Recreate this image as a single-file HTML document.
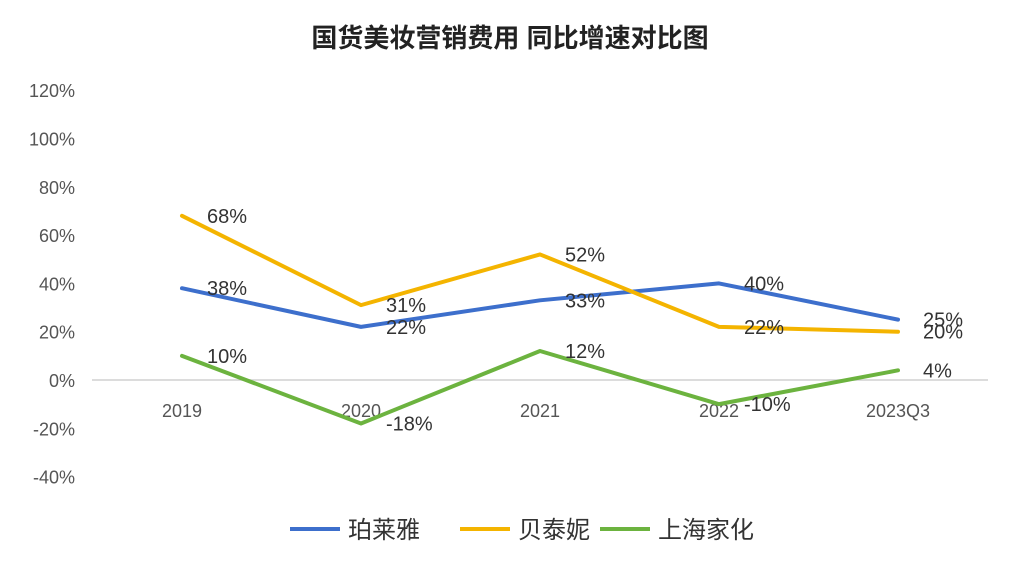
<!DOCTYPE html>
<html><head><meta charset="utf-8"><style>
body{margin:0;background:#fff}
svg text{font-family:"Liberation Sans","Noto Sans CJK SC",sans-serif}
</style></head><body>
<svg width="1020" height="570" viewBox="0 0 1020 570" xmlns="http://www.w3.org/2000/svg">
<rect width="1020" height="570" fill="#fff"/>
<text x="510" y="47" text-anchor="middle" font-size="26" font-weight="bold" fill="#222">国货美妆营销费用 同比增速对比图</text>
<g id="plot"></g>
</svg>
<script>
const categories=["2019","2020","2021","2022","2023Q3"];
const yTicks=[120,100,80,60,40,20,0,-20,-40];
const seriesNames=["珀莱雅","贝泰妮","上海家化"];
const seriesColors=["#3d6fcc","#f4b400","#6cb33f"];
const polaris=[38,22,33,40,25];
const botanee=[68,31,52,22,20];
const jahwa=[10,-18,12,-10,4];
const allSeries=[polaris,botanee,jahwa];
const NS="http://www.w3.org/2000/svg";
const g=document.getElementById('plot');
const x=i=>182+i*179;
const y=v=>380-v*2.415;
function mk(t,a){const e=document.createElementNS(NS,t);for(const k in a)e.setAttribute(k,a[k]);g.appendChild(e);return e;}
yTicks.forEach(v=>{const t=mk('text',{x:75,y:y(v)+7,'text-anchor':'end','font-size':18,fill:'#555'});


t.textContent=v+'%';});
const ax=mk('line',{x1:92,x2:988,y1:y(0),y2:y(0),stroke:'#d0d0d0','stroke-width':1.5});


categories.forEach((c,i)=>{const t=mk('text',{x:x(i),y:417,'text-anchor':'middle','font-size':18,fill:'#555'});


t.textContent=c;});
allSeries.forEach((s,k)=>{
const p=mk('polyline',{points:s.map((v,i)=>x(i)+','+y(v)).join(' '),fill:'none',stroke:seriesColors[k],'stroke-width':4,'stroke-linejoin':'round','stroke-linecap':'round'});


s.forEach((v,i)=>{const t=mk('text',{x:x(i)+25,y:y(v)+7,'font-size':20,fill:'#333'});


t.textContent=v+'%';});
});
const lx=[290,460,600];
seriesNames.forEach((n,k)=>{
const l=mk('line',{x1:lx[k],x2:lx[k]+50,y1:529,y2:529,stroke:seriesColors[k],'stroke-width':4});


const t=mk('text',{x:lx[k]+58,y:538,'font-size':24,fill:'#333'});


t.textContent=n;});
</script>
</body></html>
